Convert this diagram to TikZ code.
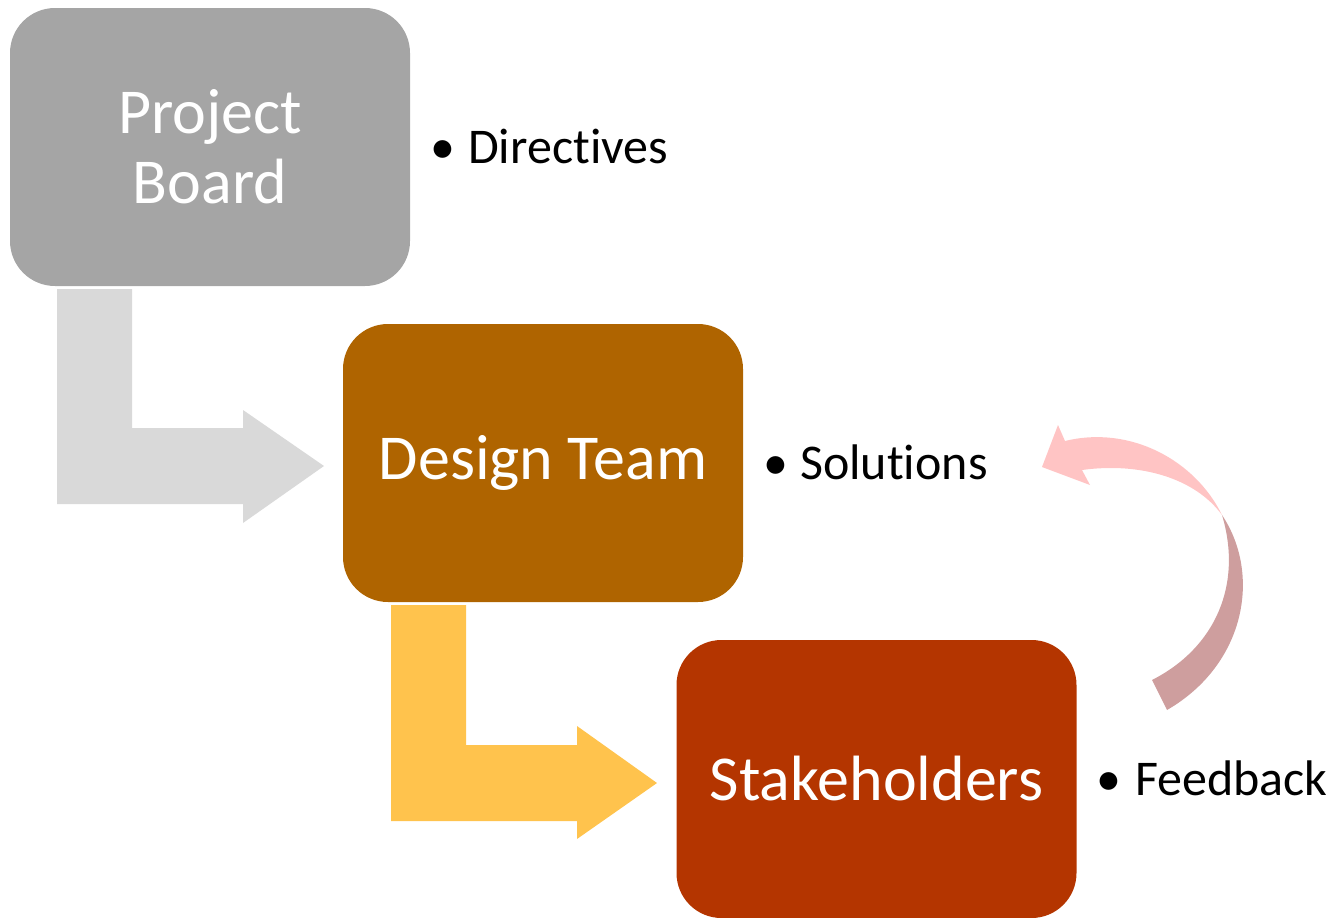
\documentclass[tikz,border=0pt]{standalone}
\usepackage{fontspec}
\setmainfont[Ligatures=NoCommon]{Carlito}
\definecolor{boardgray}{HTML}{A5A5A5}
\definecolor{designbrown}{HTML}{AF6400}
\definecolor{stakered}{HTML}{B43500}
\definecolor{arrowgray}{HTML}{D9D9D9}
\definecolor{arrowyellow}{HTML}{FFC34D}
\definecolor{pinklight}{HTML}{FFC4C4}
\definecolor{pinkdark}{HTML}{CE9E9E}
\begin{document}
\begin{tikzpicture}[x=1pt,y=-1pt,
  box/.style={rectangle, rounded corners=45pt, minimum width=400pt, minimum height=278pt, inner sep=0pt, text=white, align=center, font=\fontsize{64}{70}\selectfont},
  bul/.style={anchor=base, font=\fontsize{50}{60}\selectfont, inner sep=0pt},
  bultext/.style={anchor=base west, font=\fontsize{50}{60}\selectfont, inner sep=0pt}]
\useasboundingbox (0,0) rectangle (1336,918);
% bent arrows
\fill[arrowgray] (57,289) -- (132,289) -- (132,428) -- (243,428) -- (243,410) -- (324,466) -- (243,523) -- (243,504) -- (57,504) -- cycle;
\fill[arrowyellow] (391,605) -- (466,605) -- (466,745) -- (577,745) -- (577,726) -- (657,783) -- (577,839) -- (577,821) -- (391,821) -- cycle;
% boxes
\node[box, fill=boardgray] (board) at (210,147) {Project\\Board};
\node[box, fill=designbrown] (design) at (543,463) {Design Team};
\node[box, fill=stakered] (stake) at (876.5,779) {Stakeholders};
% bullets
\node[bul] (b1) at (443,163) {•};
\node[bultext] (t1) at (468,163) {Directives};
\node[bul] (b2) at (776,479) {•};
\node[bultext] (t2) at (800,479) {Solutions};
\node[bul] (b3) at (1109,795) {•};
\node[bultext] (t3) at (1135,795) {Feedback};
% circular feedback arrow
\fill[pinkdark] (1222,515) .. controls (1262,575) and (1245,665) .. (1167,710) -- (1152,680) .. controls (1215,648) and (1243,585) .. (1222,515) -- cycle;
\fill[pinklight] (1222,515) .. controls (1195,460) and (1130,425) .. (1065,441) -- (1058,425) -- (1042,467) -- (1090,485) -- (1082,470) .. controls (1140,462) and (1195,478) .. (1222,515) -- cycle;
\end{tikzpicture}
\end{document}
